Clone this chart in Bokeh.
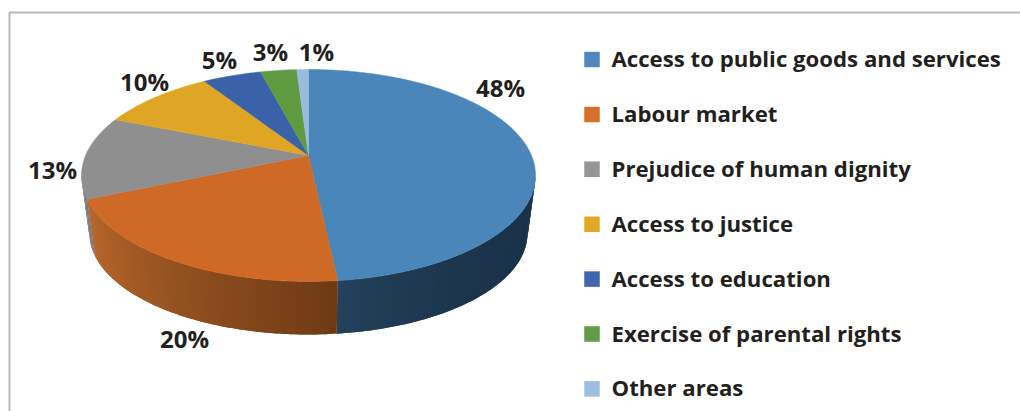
import numpy as np
from bokeh.plotting import figure
from bokeh.models import Range1d
from bokeh.core.properties import value
from bokeh.embed import file_html
from bokeh.resources import INLINE

categories = ["Access to public goods and services", "Labour market", "Prejudice of human dignity",
              "Access to justice", "Access to education", "Exercise of parental rights", "Other areas"]
shares = [48.3, 20.2, 12.6, 9.8, 5.0, 3.1, 1.0]
colors = ["#4a86b9", "#cf6a26", "#8f8f8f", "#dfa626", "#3a62a8", "#5f9a41", "#9bbce0"]
swatch = ["#4f88bd", "#d66f2b", "#969696", "#e3a825", "#3f66ad", "#619b45", "#9dbde2"]
# wall shading per slice: colour at the start and end of the slice's visible arc, and curve power
wall_shade = {0: ("#1a334a", "#24425c", 3.0), 1: ("#6d3a14", "#b9682c", 1.0), 2: ("#7a7a7a", "#8a8a8a", 1.0)}

FONT = "Open Sans"
TEXT = "#231f20"
CX, CY, A, B, K = 308.0, 175.0, 227.0, 106.0, 0.189   # top face ellipse + perspective
BCY, BA, BB = 233.0, 219.0, 101.0                     # bottom ellipse
LABEL_XY = [(500, 87), (184, 338), (52, 169), (144, 81), (219, 59), (270, 51), (316, 51)]
LEG_X, LEG_TEXT_X, LEG_Y0, LEG_DY, SW = 591.5, 611, 59, 54.9, 15.5
LEG_TEXT_DY = -1

p = figure(width=1020, height=411, output_backend="svg", toolbar_location=None,
           x_range=Range1d(0, 1020), y_range=Range1d(411, 0),
           x_axis_location=None, y_axis_location=None, min_border=0,
           outline_line_color=None, background_fill_color="white", border_fill_color="white")
p.grid.visible = False


def project(theta):
    """Pie angle (clockwise from 12 o'clock, rad) to normalised top-face coords."""
    u, v = np.sin(theta), np.cos(theta)
    d = 1 + K * v
    return u * np.sqrt(1 - K * K) / d, (v + K) / d


def face_xy(theta):
    u, v = project(theta)
    return CX + A * u, CY - B * v


def ell_angle(theta):
    u, v = project(theta)
    return np.mod(np.arctan2(u, v), 2 * np.pi)


def hex2rgb(h):
    return np.array([int(h[i:i + 2], 16) for i in (1, 3, 5)], float)


cum = np.concatenate([[0], np.cumsum(shares)]) / sum(shares) * 2 * np.pi

# side wall, drawn as thin shaded strips; each strip runs under the next to hide seams
for i, (t0, t1) in enumerate(zip(cum[:-1], cum[1:])):
    if i not in wall_shade:
        continue
    f0, f1 = ell_angle(t0), ell_angle(t1)
    if t0 == 0:
        f0 = 0.0
    lo, hi = max(f0, np.pi / 2), min(f1, 3 * np.pi / 2)
    if hi <= lo:
        continue
    n = max(2, int(np.degrees(hi - lo) / 1.5))
    edges = np.linspace(lo, hi, n + 1)
    c0, c1, power = wall_shade[i]
    c0, c1 = hex2rgb(c0), hex2rgb(c1)
    for j in range(n):
        a = np.linspace(edges[j], edges[min(j + 2, n)], 5)
        xs = np.concatenate([CX + A * np.sin(a), CX + BA * np.sin(a[::-1])])
        ys = np.concatenate([CY - B * np.cos(a), BCY - BB * np.cos(a[::-1])])
        rgb = c0 + (c1 - c0) * ((j + 0.5) / n) ** power
        col = "#%02x%02x%02x" % tuple(int(round(x)) for x in rgb)
        p.patch(xs, ys, fill_color=col, line_color=None)

# top face
apex = (CX, CY - B * K)
for i, (t0, t1) in enumerate(zip(cum[:-1], cum[1:])):
    th = np.linspace(t0, t1, max(8, int(np.degrees(t1 - t0))))
    x, y = face_xy(th)
    xs = np.concatenate([[apex[0]], x])
    ys = np.concatenate([[apex[1]], y])
    p.patch(xs, ys, fill_color=colors[i], line_color=colors[i], line_width=0.5)

# frame
p.line([9, 9, 1020], [411, 12, 12], line_color="#b9b9b9", line_width=2)

# data labels
labels = [f"{round(s)}%" for s in shares]
p.text([q[0] for q in LABEL_XY], [q[1] for q in LABEL_XY], text=labels,
       text_font=value(FONT), text_font_style="bold", text_font_size="24px",
       text_color=TEXT, text_align="center", text_baseline="middle")

# legend
leg_y = [LEG_Y0 + k * LEG_DY for k in range(len(categories))]
for k, yy in enumerate(leg_y):
    p.patch([LEG_X - SW / 2, LEG_X + SW / 2, LEG_X + SW / 2, LEG_X - SW / 2],
            [yy - SW / 2, yy - SW / 2, yy + SW / 2, yy + SW / 2],
            fill_color=swatch[k], line_color=None)
p.text([LEG_TEXT_X] * len(categories), [yy + LEG_TEXT_DY for yy in leg_y], text=categories,
       text_font=value(FONT), text_font_style="bold", text_font_size="22.2px",
       text_color=TEXT, text_align="left", text_baseline="middle")

open("out.html", "w").write(file_html(p, INLINE))
